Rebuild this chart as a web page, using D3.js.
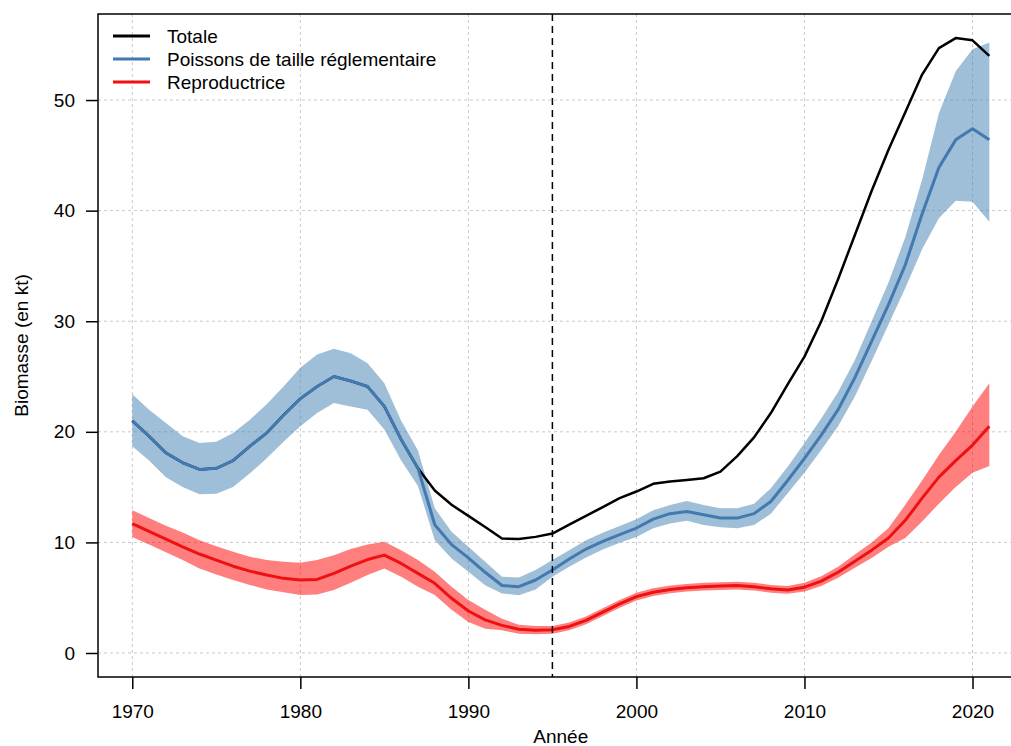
<!DOCTYPE html>
<html>
<head>
<meta charset="utf-8">
<script src="https://cdn.jsdelivr.net/npm/d3@7"></script>
<style>
  html, body { margin: 0; padding: 0; background: #fff; }
  svg { display: block; font-family: "Liberation Sans", Arial, sans-serif; }
</style>
</head>
<body>
<svg id="chart" width="1011" height="746"></svg>
<script>
// Biomass estimates (kt) by year
const years = [1970,1971,1972,1973,1974,1975,1976,1977,1978,1979,
               1980,1981,1982,1983,1984,1985,1986,1987,1988,1989,
               1990,1991,1992,1993,1994,1995,1996,1997,1998,1999,
               2000,2001,2002,2003,2004,2005,2006,2007,2008,2009,
               2010,2011,2012,2013,2014,2015,2016,2017,2018,2019,
               2020,2021];

const totale = [21.0,19.6,18.1,17.2,16.6,16.7,17.4,18.7,19.9,21.5,
                23.0,24.1,25.0,24.6,24.1,22.3,19.3,16.7,14.7,13.4,
                12.4,11.4,10.35,10.3,10.5,10.8,11.6,12.4,13.2,14.0,
                14.6,15.3,15.5,15.65,15.8,16.4,17.8,19.5,21.7,24.3,
                26.8,30.0,33.8,37.8,41.8,45.5,48.9,52.3,54.7,55.6,
                55.4,54.0];

const reglementaire = [21.0,19.6,18.1,17.2,16.6,16.7,17.4,18.7,19.9,21.5,
                       23.0,24.1,25.0,24.6,24.1,22.3,19.3,16.7,11.6,9.8,
                       8.6,7.3,6.1,6.0,6.6,7.5,8.5,9.4,10.1,10.7,
                       11.3,12.1,12.6,12.8,12.5,12.2,12.2,12.6,13.7,15.6,
                       17.6,19.7,22.0,24.9,28.2,31.5,35.1,39.7,43.9,46.4,
                       47.4,46.4];
const reglementaireLow = [18.7,17.4,15.9,15.0,14.35,14.4,15.0,16.25,17.6,19.1,
                          20.5,21.7,22.6,22.3,22.0,20.2,17.4,15.1,10.2,8.55,
                          7.34,6.13,5.38,5.23,5.74,6.9,7.8,8.64,9.37,9.96,
                          10.5,11.27,11.72,11.96,11.57,11.36,11.27,11.57,12.6,14.44,
                          16.3,18.36,20.5,23.2,26.4,29.7,33.0,36.5,39.3,40.9,
                          40.8,39.0];
const reglementaireHigh = [23.4,22.0,20.8,19.6,19.0,19.1,19.9,21.1,22.5,24.1,
                           25.8,27.0,27.5,27.1,26.2,24.4,21.0,18.3,13.1,10.96,
                           9.6,8.24,6.9,6.83,7.5,8.4,9.3,10.2,10.87,11.48,
                           12.1,12.9,13.38,13.74,13.38,13.08,13.08,13.5,14.9,16.85,
                           19.0,21.2,23.6,26.5,30.0,33.5,37.6,42.8,48.8,52.6,
                           54.6,55.2];

const reproductrice = [11.7,11.0,10.3,9.6,8.95,8.4,7.85,7.4,7.05,6.75,
                       6.6,6.65,7.2,7.85,8.45,8.85,8.1,7.2,6.3,4.95,
                       3.8,3.0,2.5,2.15,2.05,2.1,2.4,2.95,3.7,4.45,
                       5.1,5.5,5.75,5.9,6.0,6.05,6.1,6.0,5.8,5.7,
                       5.95,6.5,7.3,8.3,9.3,10.4,12.0,14.0,15.9,17.4,
                       18.8,20.5];
const reproductriceLow = [10.5,9.8,9.1,8.4,7.65,7.1,6.6,6.15,5.75,5.5,
                          5.25,5.3,5.7,6.35,7.05,7.65,6.9,6.0,5.25,3.9,
                          2.8,2.2,2.05,1.75,1.7,1.75,2.05,2.6,3.35,4.1,
                          4.75,5.15,5.4,5.55,5.65,5.7,5.75,5.65,5.45,5.35,
                          5.55,6.05,6.8,7.7,8.6,9.6,10.4,11.9,13.5,15.0,
                          16.3,16.9];
const reproductriceHigh = [12.9,12.2,11.5,10.9,10.2,9.65,9.15,8.7,8.4,8.25,
                           8.15,8.4,8.85,9.4,9.8,10.05,9.3,8.4,7.35,6.0,
                           4.8,3.9,3.1,2.55,2.45,2.45,2.75,3.3,4.05,4.8,
                           5.45,5.85,6.1,6.25,6.35,6.4,6.45,6.35,6.15,6.05,
                           6.35,6.95,7.8,8.9,10.0,11.3,13.4,15.6,17.9,20.0,
                           22.3,24.4];

const xTicks = [1970, 1980, 1990, 2000, 2010, 2020];
const yTicks = [0, 10, 20, 30, 40, 50];
const referenceYear = 1995;

const legendLabels = ["Totale", "Poissons de taille réglementaire", "Reproductrice"];
const legendColors = ["#000000", "#4279b0", "#ee1111"];

// Layout
const svg = d3.select("#chart");
const frame = { left: 98, top: 14, right: 1023.6, bottom: 677 };
const fontSize = 19;

const x = d3.scaleLinear().domain([1967.96, 2023.04]).range([frame.left, frame.right]);
const y = d3.scaleLinear().domain([-2.17, 57.78]).range([frame.bottom, frame.top]);

// Grid
const grid = svg.append("g").attr("stroke", "#c9c9c9").attr("stroke-width", 1)
  .attr("stroke-dasharray", "3,3");
grid.selectAll("line.v").data(xTicks).join("line")
  .attr("x1", d => x(d)).attr("x2", d => x(d))
  .attr("y1", frame.top).attr("y2", frame.bottom);
grid.selectAll("line.h").data(yTicks).join("line")
  .attr("y1", d => y(d)).attr("y2", d => y(d))
  .attr("x1", frame.left).attr("x2", frame.right);

// Uncertainty bands
const band = (lo, hi) => d3.area()
  .x((d, i) => x(years[i]))
  .y0((d, i) => y(lo[i]))
  .y1((d, i) => y(hi[i]));

svg.append("path").datum(years)
  .attr("d", band(reglementaireLow, reglementaireHigh))
  .attr("fill", "rgba(70,130,180,0.52)");
svg.append("path").datum(years)
  .attr("d", band(reproductriceLow, reproductriceHigh))
  .attr("fill", "rgba(255,0,0,0.5)");

// Lines
const line = d3.line().x((d, i) => x(years[i])).y(d => y(d));
svg.append("path").datum(totale).attr("d", line)
  .attr("fill", "none").attr("stroke", legendColors[0]).attr("stroke-width", 2.5)
  .attr("stroke-linejoin", "round");
svg.append("path").datum(reglementaire).attr("d", line)
  .attr("fill", "none").attr("stroke", legendColors[1]).attr("stroke-width", 3)
  .attr("stroke-linejoin", "round");
svg.append("path").datum(reproductrice).attr("d", line)
  .attr("fill", "none").attr("stroke", legendColors[2]).attr("stroke-width", 3)
  .attr("stroke-linejoin", "round");

// Reference year
svg.append("line")
  .attr("x1", x(referenceYear)).attr("x2", x(referenceYear))
  .attr("y1", frame.top).attr("y2", frame.bottom)
  .attr("stroke", "#000").attr("stroke-width", 1.5).attr("stroke-dasharray", "7,5");

// Axes
const xAxis = d3.axisBottom(x).tickValues(xTicks).tickFormat(d3.format("d"))
  .tickSizeInner(12).tickSizeOuter(0).tickPadding(16);
const yAxis = d3.axisLeft(y).tickValues(yTicks).tickFormat(d3.format("d"))
  .tickSizeInner(12).tickSizeOuter(0).tickPadding(11);

const gx = svg.append("g").attr("transform", `translate(0,${frame.bottom})`).call(xAxis);
const gy = svg.append("g").attr("transform", `translate(${frame.left},0)`).call(yAxis);
[gx, gy].forEach(g => {
  g.select(".domain").remove();
  g.selectAll(".tick line").attr("stroke", "#000").attr("stroke-width", 1.5);
  g.selectAll(".tick text").attr("fill", "#000")
    .attr("font-size", fontSize).attr("font-family", "Liberation Sans, Arial, sans-serif");
});

// Frame
svg.append("rect")
  .attr("x", frame.left).attr("y", frame.top)
  .attr("width", frame.right - frame.left).attr("height", frame.bottom - frame.top)
  .attr("fill", "none").attr("stroke", "#000").attr("stroke-width", 1.5);

// Axis titles
svg.append("text")
  .attr("x", (frame.left + frame.right) / 2).attr("y", 743)
  .attr("text-anchor", "middle").attr("font-size", fontSize).text("Année");
svg.append("text")
  .attr("transform", `translate(28,${(frame.top + frame.bottom) / 2}) rotate(-90)`)
  .attr("text-anchor", "middle").attr("font-size", fontSize).text("Biomasse (en kt)");

// Legend
const legend = svg.append("g");
legendLabels.forEach((label, i) => {
  const ly = 36 + i * 23;
  legend.append("line")
    .attr("x1", 113).attr("x2", 150).attr("y1", ly).attr("y2", ly)
    .attr("stroke", legendColors[i]).attr("stroke-width", 3);
  legend.append("text")
    .attr("x", 167).attr("y", ly).attr("dy", "0.35em")
    .attr("font-size", fontSize).text(label);
});
</script>
</body>
</html>
